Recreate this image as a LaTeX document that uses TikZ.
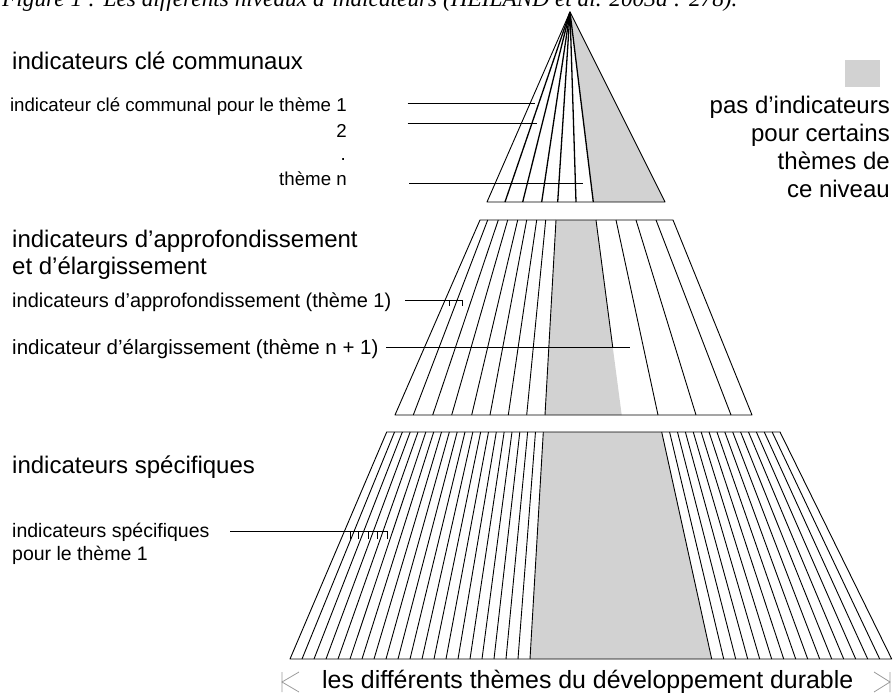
\documentclass[tikz,border=0pt]{standalone}
\usepackage{fontspec}
\setmainfont{Liberation Sans}
\newfontfamily\captionserif{Liberation Serif}
\usepackage{tikz}
\usetikzlibrary{positioning}
\definecolor{bandgray}{HTML}{D2D2D2}
\definecolor{markgray}{HTML}{9C9C9C}

\begin{document}
\begin{tikzpicture}[
  x=1pt, y=-1pt,
  heading/.style={
    anchor=base west, inner sep=0pt, align=left,
    font=\fontsize{24}{27}\selectfont,
  },
  themetag/.style={inner sep=0pt, font=\fontsize{18.7}{23}\selectfont},
  stripline/.style={line width=0.9pt, line join=round},
  leader/.style={line width=0.7pt},
  blank/.style={fill=bandgray, draw=none},
  endmark/.style={draw=markgray, line width=0.8pt},
]

\useasboundingbox (0,0) rectangle (894,693);
\clip (0,0) rectangle (894,693);

% caption, cut by the top edge
\node[anchor=base west, inner sep=0pt,
  font=\captionserif\itshape\fontsize{23.3}{26}\selectfont] (caption) at (2,7)
  {Figure 1 : Les différents niveaux d’indicateurs (HEILAND et al. 2003a : 278).};

% key indicators
\fill[blank] (570,12) -- (593.3,202) -- (665,202) -- cycle;
\draw[stripline] (570,12) -- (665,202) -- (487,202) -- cycle;
\foreach \b in {505,522.7,541.7,557.7,576,593.3}
  \draw[stripline, line width=1.3pt] (570,12) -- (\b,202);

% deepening and widening indicators
\fill[blank] (556,220) -- (596,220) -- (621.7,415) -- (545,415) -- cycle;
\draw[stripline] (480,220) -- (673,220) -- (752,415) -- (395,415) -- cycle;
\foreach \t/\b in {487.7/413.3, 498.3/432.7, 507.7/451.7, 517.7/471.7,
    526.7/490, 536.7/508.3, 545.7/526.7, 556/545, 616/658, 636/696, 656/731}
  \draw[stripline] (\t,220) -- (\b,415);
\draw[stripline] (596,220) -- (612.7,347);

% specific indicators
\fill[blank] (543.3,432) -- (661.7,432) -- (711.7,659) -- (530,659) -- cycle;
\draw[stripline] (386.7,432) -- (780,432) -- (891.7,659) -- (290,659) -- cycle;
\foreach \i in {1,...,20}
  \draw[stripline] ({386.7+\i*7.83},432) -- ({290+\i*12},659);
\foreach \i in {0,...,14}
  \draw[stripline] ({661.7+\i*7.89},432) -- ({711.7+\i*12},659);

% left texts
\node[heading] (keyhead) at (12,70) {indicateurs clé communaux};
\node[themetag, anchor=base east] (key1) at (347,111) {indicateur clé communal pour le thème 1};
\node[themetag, anchor=base east] (key2) at (347,137) {2};
\node[themetag, anchor=base east] (keydot) at (346,160) {.};
\node[themetag, anchor=base east] (keyn) at (347,185) {thème n};

\node[heading] (deephead) at (12,274) {indicateurs d’approfondissement\\et d’élargissement};
\node[themetag, anchor=base west, font=\fontsize{20}{24}\selectfont] (deep1) at (12,307) {indicateurs d’approfondissement (thème 1)};
\node[themetag, anchor=base west, font=\fontsize{20.5}{24}\selectfont] (wide1) at (12,354) {indicateur d’élargissement (thème n + 1)};

\node[heading] (spechead) at (12,473) {indicateurs spécifiques};
\node[themetag, anchor=base west, align=left, font=\fontsize{19.5}{23}\selectfont] (spec1) at (12,560) {indicateurs spécifiques\\pour le thème 1};

% leader lines
\draw[leader] (407.7,103.3) -- (535,103.3);
\draw[leader] (407.7,123.3) -- (536.7,123.3);
\draw[leader] (409,183.3) -- (582.7,183.3);
\draw[leader] (405,300) -- (463,300);
\foreach \x in {449,462}
  \draw[leader] (\x,300) -- ++(0,6);
\draw[leader] (386,347) -- (630,347);
\draw[leader] (230,531.5) -- (388,531.5);
\foreach \x in {350,358,368,377,387}
  \draw[leader] (\x,531.5) -- ++(0,7);

% legend
\node[blank, minimum width=35pt, minimum height=27pt, anchor=north west] (swatch) at (845,60) {};
\node[heading, anchor=base east, align=right, font=\fontsize{24}{28}\selectfont] (legend) at (890,197)
  {pas d’indicateurs\\pour certains\\thèmes de\\ce niveau};

% axis of themes
\node[anchor=base west, inner sep=0pt, font=\fontsize{24.9}{28}\selectfont] (axis) at (322,688)
  {les différents thèmes du développement durable};
\draw[endmark] (282,672) -- (282,692) (299,672) -- (282,682) -- (299,692);
\draw[endmark] (890,672) -- (890,692) (874,672) -- (890,682) -- (874,692);

\end{tikzpicture}
\end{document}
